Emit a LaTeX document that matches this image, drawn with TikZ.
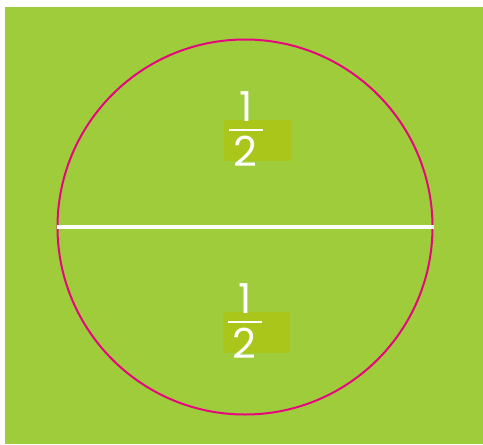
\documentclass[tikz,border=0pt]{standalone}
\usepackage{fontspec}
\usepackage{xcolor}
\usepackage{tikz}
\usetikzlibrary{positioning}
\newfontfamily\fracfont{Poppins}

\definecolor{leafgreen}{HTML}{9ECC3B}
\definecolor{markgreen}{HTML}{ABC61A}
\definecolor{rimpink}{HTML}{E6067E}

\begin{document}
\begin{tikzpicture}[
    x=0.75pt, y=-0.75pt,
    highlight/.style={
        rectangle,
        fill=markgreen,
        minimum width=67*0.75pt,
        minimum height=41*0.75pt,
        inner sep=0pt
    },
    digit/.style={
        text=white,
        inner sep=0pt,
        font=\fracfont\fontsize{31}{31}\selectfont
    },
    bar/.style={
        white,
        line width=1.6pt
    }
]

\useasboundingbox (0,0) rectangle (483,444);

% Background
\fill[leafgreen] (5,7) rectangle (483,444);

% Circle and diameter
\node[circle, draw=rimpink, line width=1.5pt, minimum size=375*0.75pt, inner sep=0pt] (whole) at (245,227) {};
\draw[white, line width=2.3pt] (whole.west)--(whole.east);

% Upper half
\node[highlight] (uppermark) at (257.5,140.5) {};
\node[digit] (uppernum) at (246,107) {1};
\node[digit] (upperden) at (245,151) {2};
\coordinate (upperbarl) at (229,130);
\coordinate (upperbarr) at (263,130);
\draw[bar] (upperbarl)--(upperbarr);

% Lower half
\node[highlight] (lowermark) at (256,332.5) {};
\node[digit] (lowernum) at (245,299) {1};
\node[digit] (lowerden) at (244,343) {2};
\coordinate (lowerbarl) at (228,322);
\coordinate (lowerbarr) at (262,322);
\draw[bar] (lowerbarl)--(lowerbarr);

\end{tikzpicture}
\end{document}
